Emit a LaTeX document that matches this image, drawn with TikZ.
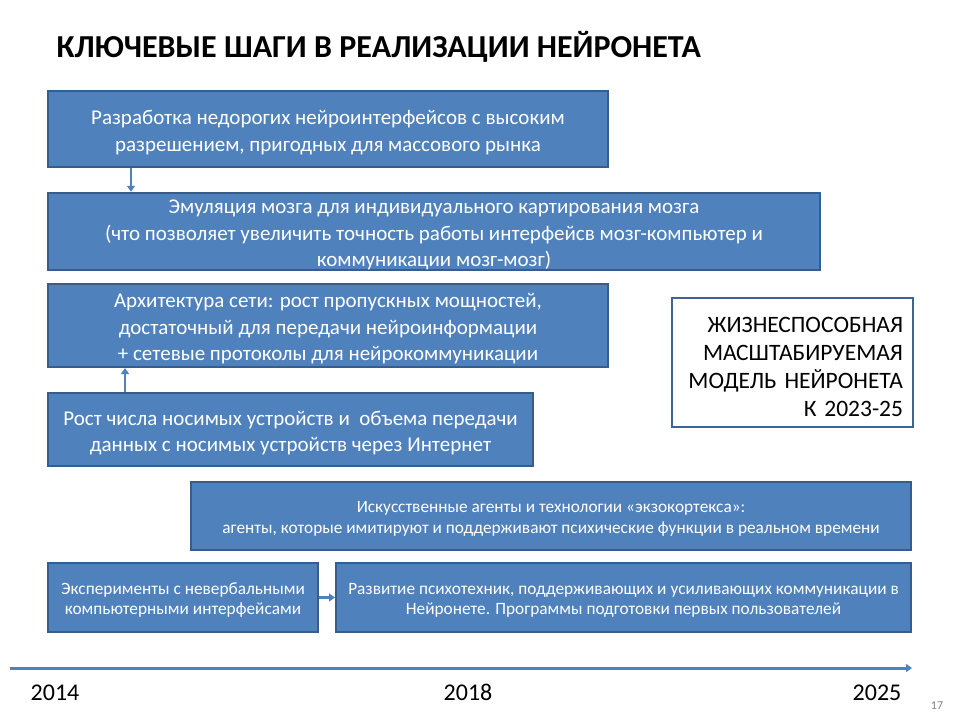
\documentclass[tikz,border=0pt]{standalone}
\usepackage{fontspec}
\setmainfont{Carlito}
\usetikzlibrary{arrows.meta}
\definecolor{boxfill}{HTML}{4F81BD}
\definecolor{boxline}{HTML}{385D8A}
\newcommand{\tsp}{\rule{0pt}{1em}}
\tikzset{
  bluebox/.style={draw=boxline, line width=2pt, fill=boxfill, text=white, align=center, inner sep=0pt},
  whitebox/.style={draw=boxline!80!boxfill, line width=2pt, fill=white, align=right, inner sep=0pt},
  conn/.style={draw=boxfill, line width=2.5pt, -{Triangle[length=6pt,width=8pt]}},
  bigtxt/.style={font=\fontsize{21}{26.5}\selectfont},
  smalltxt/.style={font=\fontsize{17.3}{20.5}\selectfont},
  yeartxt/.style={font=\fontsize{24}{28}\selectfont, anchor=base},
}
\begin{document}
\begin{tikzpicture}[x=1pt,y=-1pt]
\useasboundingbox (0,0) rectangle (960,720);
\node[anchor=west, font=\bfseries\fontsize{32}{36}\selectfont] (title) at (53,47) {КЛЮЧЕВЫЕ ШАГИ В РЕАЛИЗАЦИИ НЕЙРОНЕТА};

\node[bluebox, minimum width=560pt, minimum height=76pt, bigtxt] (b1) at (328,129) {\tsp Разработка недорогих нейроинтерфейсов с высоким\\разрешением, пригодных для массового рынка};
\node[bluebox, minimum width=772pt, minimum height=77pt, bigtxt] (b2) at (434,231.5) {\tsp Эмуляция мозга для индивидуального картирования мозга\\(что позволяет увеличить точность работы интерфейсв мозг-компьютер и\\коммуникации мозг-мозг)};
\node[bluebox, minimum width=560pt, minimum height=83pt, bigtxt] (b3) at (328,325.5) {\tsp Архитектура сети: рост пропускных мощностей,\\достаточный для передачи нейроинформации\\+ сетевые протоколы для нейрокоммуникации};
\node[bluebox, minimum width=485pt, minimum height=73pt, bigtxt] (b4) at (290.5,429.5) {\tsp Рост числа носимых устройств и \ объема передачи\\данных с носимых устройств через Интернет};

\node[whitebox, text width=221pt, inner xsep=10pt, minimum height=129pt, font=\fontsize{23.5}{28}\selectfont] (b5) at (792.5,362.5) {\tsp ЖИЗНЕСПОСОБНАЯ\hspace*{6pt}\\МАСШТАБИРУЕМАЯ\\МОДЕЛЬ НЕЙРОНЕТА\hspace*{6pt}\\К 2023-25\hspace*{2pt}};

\node[bluebox, minimum width=720pt, minimum height=68pt, smalltxt] (b6) at (551,516) {\tsp Искусственные агенты и технологии «экзокортекса»:\\агенты, которые имитируют и поддерживают психические функции в реальном времени};
\node[bluebox, minimum width=270pt, minimum height=69pt, smalltxt] (b7) at (183,597.5) {\tsp Эксперименты с невербальными\\компьютерными интерфейсами};
\node[bluebox, minimum width=575pt, minimum height=69pt, smalltxt] (b8) at (623.5,597.5) {\tsp Развитие психотехник, поддерживающих и усиливающих коммуникации в\\Нейронете. Программы подготовки первых пользователей};

\draw[conn] (b1.south -| 131,0) -- (b2.north -| 131,0);
\draw[conn] (b4.north -| 125,0) -- (b3.south -| 125,0);
\draw[conn] (b7.east) -- (b8.west);

\coordinate (t0) at (10,668);
\coordinate (t1) at (912,668);
\draw[conn, line width=3pt] (t0) -- (t1);

\node[yeartxt] (y1) at (55,700) {2014};
\node[yeartxt] (y2) at (468,700) {2018};
\node[yeartxt] (y3) at (877,700) {2025};
\node[font=\fontsize{12}{14}\selectfont, text=gray] (pg) at (937,706) {17};
\end{tikzpicture}
\end{document}
